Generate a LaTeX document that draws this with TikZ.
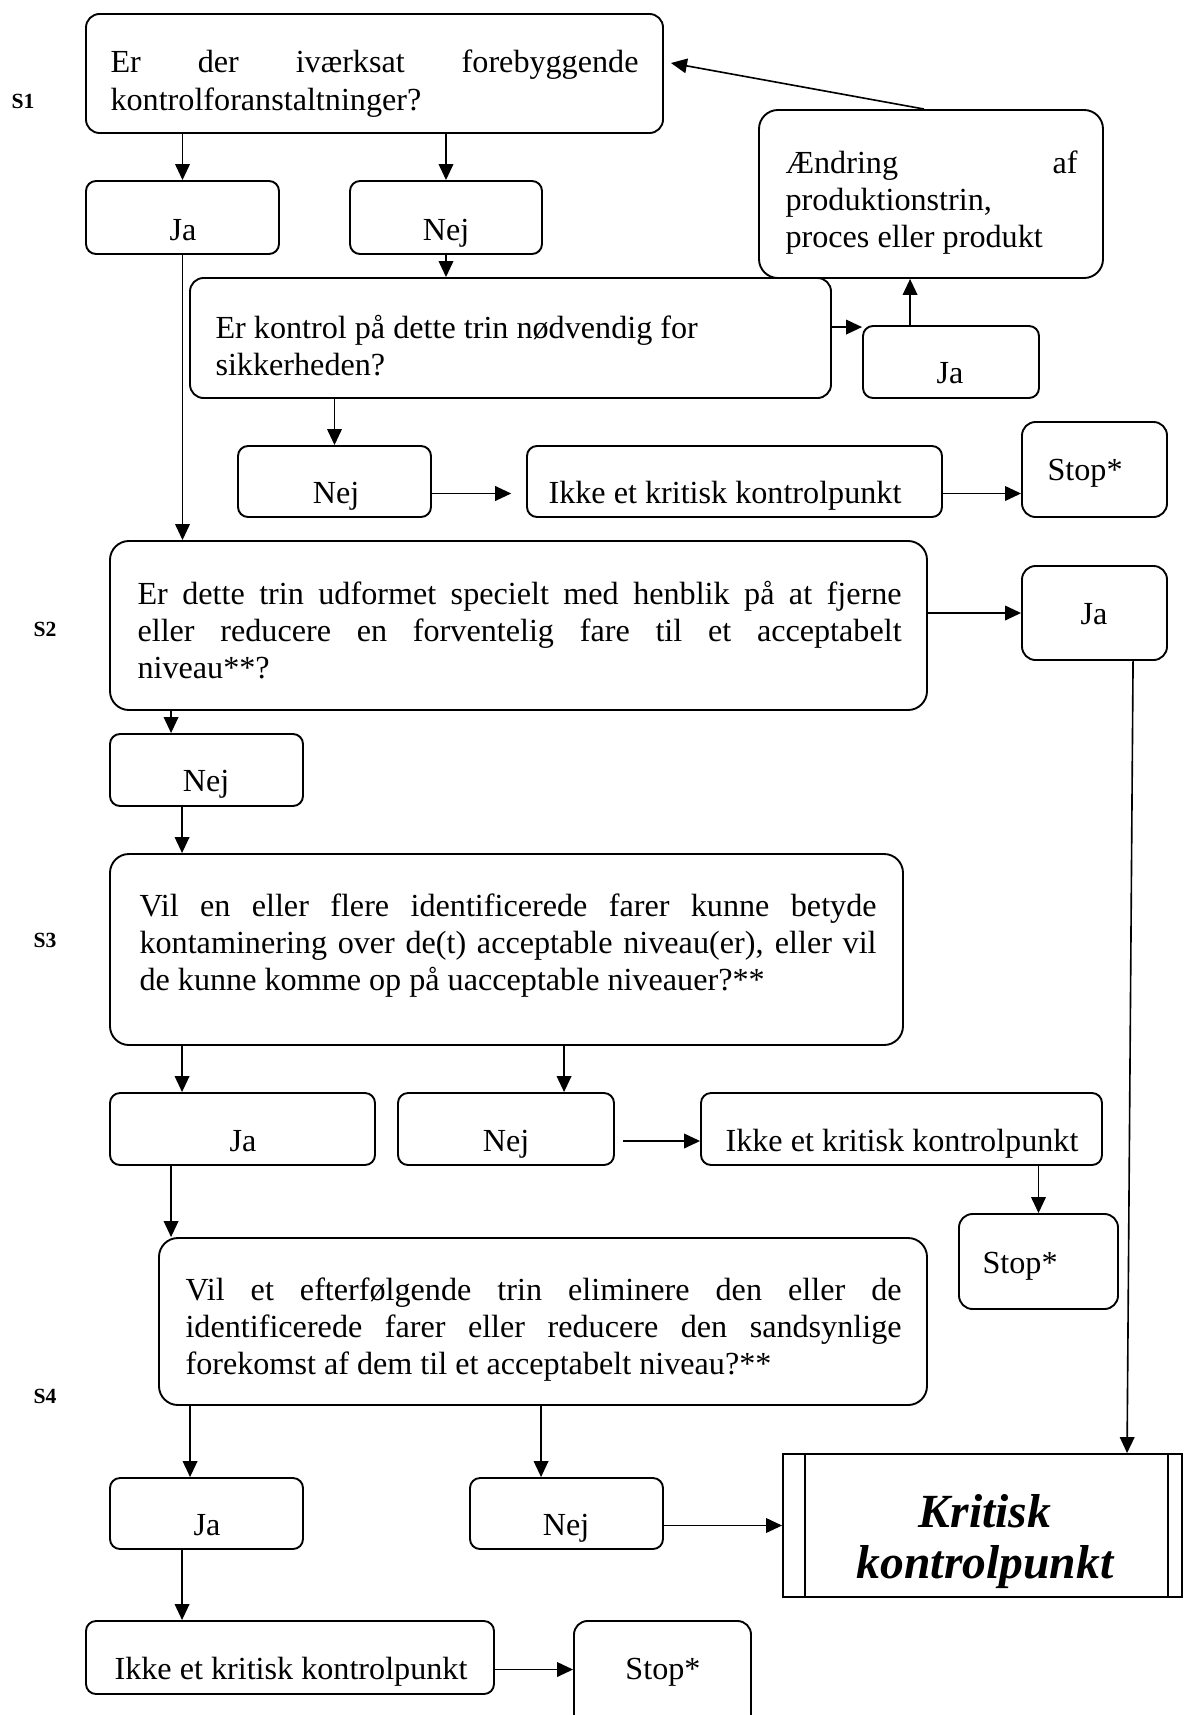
\documentclass[tikz,border=0pt]{standalone}
\usepackage{fontspec}
\setmainfont{Liberation Serif}
\usetikzlibrary{arrows.meta,fit,calc}
\newdimen\pxlen \pxlen=0.37pt
\newcommand\jl[2]{\makebox[#1\pxlen][s]{#2}}
\begin{document}
\begin{tikzpicture}[x=0.37pt,y=-0.37pt,
  font=\fontsize{11.9pt}{13.7pt}\selectfont,
  box/.style={draw, line width=0.7pt, rounded corners=3.7pt, inner sep=0pt},
  bigbox/.style={box, rounded corners=5pt},
  arr/.style={line width=0.6pt, -{Triangle[length=5.9pt,width=5.4pt]}},
  txt/.style={inner sep=0pt, anchor=base west},
  ctxt/.style={inner sep=0pt, anchor=base},
  slabel/.style={inner sep=0pt, anchor=base west, font=\fontsize{8pt}{9pt}\selectfont\bfseries}]
\useasboundingbox (0,0) rectangle (1183,1715);

% step labels
\node[slabel] (s1) at (11,109) {S1};
\node[slabel] (s2) at (33,636) {S2};
\node[slabel] (s3) at (33,947) {S3};
\node[slabel] (s4) at (33,1403) {S4};

% boxes
\node[bigbox, fit={(86,14) (663,133)}] (A) {};
\node[box, fit={(86,181) (279,254)}] (Ja1) {};
\node[box, fit={(350,181) (542,254)}] (Nej1) {};
\node[bigbox, fit={(190,278) (831,398)}] (B) {};
\node[box, fit={(863,326) (1039,398)}] (Ja2) {};
\node[box, rounded corners=7pt, fit={(759,110) (1103,278)}] (C) {};
\node[box, fit={(238,446) (431,517)}] (Nej2) {};
\node[box, fit={(527,446) (942,517)}] (Ikke1) {};
\node[box, rounded corners=5pt, fit={(1022,422) (1167,517)}] (Stop1) {};
\node[bigbox, rounded corners=7pt, fit={(110,541) (927,710)}] (D) {};
\node[box, rounded corners=5pt, fit={(1022,566) (1167,660)}] (Ja3) {};
\node[box, fit={(110,734) (303,806)}] (Nej3) {};
\node[bigbox, rounded corners=7pt, fit={(110,854) (903,1045)}] (E) {};
\node[box, fit={(110,1093) (375,1165)}] (Ja4) {};
\node[box, fit={(398,1093) (614,1165)}] (Nej4) {};
\node[box, fit={(701,1093) (1102,1165)}] (Ikke2) {};
\node[box, rounded corners=5pt, fit={(959,1214) (1118,1309)}] (Stop2) {};
\node[bigbox, rounded corners=7pt, fit={(159,1238) (927,1405)}] (F) {};
\node[box, fit={(110,1478) (303,1549)}] (Ja5) {};
\node[box, fit={(470,1478) (663,1549)}] (Nej5) {};
\node[draw, line width=0.7pt, inner sep=0pt, fit={(783,1454) (1182,1597)}] (K) {};
\draw[line width=0.7pt] ($(K.north west)+(23,0)$) -- ($(K.south west)+(23,0)$);
\draw[line width=0.7pt] ($(K.north east)+(-15,0)$) -- ($(K.south east)+(-15,0)$);
\node[box, fit={(86,1621) (494,1694)}] (Ikke3) {};
\node[box, rounded corners=5pt, fit={(574,1621) (751,1740)}] (Stop3) {};

% texts
\node[txt] (tA) at (110,73) {\parbox[t]{528\pxlen}{\jl{528}{Er der iværksat forebyggende}\\kontrolforanstaltninger?}};
\node[ctxt] (tJa1) at (183,240) {Ja};
\node[ctxt] (tNej1) at (446,240) {Nej};
\node[txt] (tB) at (215,338) {\parbox[t]{580\pxlen}{Er kontrol på dette trin nødvendig for\\sikkerheden?}};
\node[ctxt] (tJa2) at (950,383) {Ja};
\node[txt] (tC) at (785,173) {\parbox[t]{292\pxlen}{\jl{292}{Ændring af}\\produktionstrin,\\proces eller produkt}};
\node[ctxt] (tNej2) at (336,503) {Nej};
\node[ctxt] (tIkke1) at (725,503) {Ikke et kritisk kontrolpunkt};
\node[txt] (tStop1) at (1047,480) {Stop*};
\node[txt] (tD) at (137,604) {\parbox[t]{764\pxlen}{\jl{764}{Er dette trin udformet specielt med henblik på at fjerne}\\\jl{764}{eller reducere en forventelig fare til et acceptabelt}\\niveau**?}};
\node[ctxt] (tJa3) at (1094,624) {Ja};
\node[ctxt] (tNej3) at (206,791) {Nej};
\node[txt] (tE) at (139,916) {\parbox[t]{737\pxlen}{\jl{737}{Vil en eller flere identificerede farer kunne betyde}\\\jl{737}{kontaminering over de(t) acceptable niveau(er), eller vil}\\de kunne komme op på uacceptable niveauer?**}};
\node[ctxt] (tJa4) at (243,1151) {Ja};
\node[ctxt] (tNej4) at (506,1151) {Nej};
\node[ctxt] (tIkke2) at (902,1151) {Ikke et kritisk kontrolpunkt};
\node[txt] (tStop2) at (982,1273) {Stop*};
\node[txt] (tF) at (185,1300) {\parbox[t]{716\pxlen}{\jl{716}{Vil et efterfølgende trin eliminere den eller de}\\\jl{716}{identificerede farer eller reducere den sandsynlige}\\forekomst af dem til et acceptabelt niveau?**}};
\node[ctxt] (tJa5) at (207,1535) {Ja};
\node[ctxt] (tNej5) at (566,1535) {Nej};
\node[ctxt] (tK) at (985,1527) {\parbox[t]{340\pxlen}{\centering\fontsize{17.6pt}{19.2pt}\selectfont\bfseries\itshape Kritisk\\kontrolpunkt}};
\node[ctxt] (tIkke3) at (291,1679) {Ikke et kritisk kontrolpunkt};
\node[ctxt] (tStop3) at (663,1679) {Stop*};

% connectors
\coordinate (pCA) at (671,63);
\draw[arr] (A.south -| Ja1) -- (Ja1.north);
\draw[arr] (A.south -| Nej1) -- (Nej1.north);
\draw[arr] (Nej1.south) -- (Nej1.south |- B.north);
\coordinate (bj) at ($(Ja2.north west)+(0,2)$);
\draw[arr] (B.east |- bj) -- (bj);
\draw[arr] ($(Ja2.north west)+(48,0)$) coordinate (c5) -- (c5 |- C.south);
\draw[arr] ($(C.north west)+(166,0)$) -- (pCA);
\draw[arr] (B.south -| Nej2) -- (Nej2.north);
\draw[arr, shorten >=5.5pt] ($(Nej2.east)+(0,12)$) coordinate (n2) -- (n2 -| Ikke1.west);
\draw[arr] ($(Ikke1.east)+(0,12)$) coordinate (i1) -- (i1 -| Stop1.west);
\draw[arr] (Ja1.south) -- (Ja1.south |- D.north);
\draw[arr] (D.east |- Ja3.west) -- (Ja3.west);
\draw[arr] ($(Ja3.south west)+(112,0)$) -- ($(K.north west)+(345,0)$);
\draw[arr] ($(D.south west)+(62,0)$) coordinate (c13) -- (c13 |- Nej3.north);
\draw[arr] ($(Nej3.south west)+(73,0)$) coordinate (c14) -- (c14 |- E.north);
\draw[arr] ($(E.south west)+(73,0)$) coordinate (c15) -- (c15 |- Ja4.north);
\draw[arr] ($(E.south west)+(455,0)$) coordinate (c16) -- (c16 |- Nej4.north);
\draw[arr, shorten <=3pt] ($(Nej4.east)+(0,12)$) coordinate (n4) -- (n4 -| Ikke2.west);
\draw[arr] (Ikke2.south -| Stop2) -- (Stop2.north);
\draw[arr] ($(Ja4.south west)+(62,0)$) coordinate (c19) -- (c19 |- F.north);
\draw[arr] ($(F.south west)+(32,0)$) coordinate (c20) -- (c20 |- Ja5.north);
\draw[arr] ($(F.south west)+(383,0)$) coordinate (c21) -- (c21 |- Nej5.north);
\draw[arr] ($(Nej5.east)+(0,12)$) coordinate (n5) -- (n5 -| K.west);
\draw[arr] ($(Ja5.south west)+(73,0)$) coordinate (c23) -- (c23 |- Ikke3.north);
\draw[arr] ($(Ikke3.east)+(0,12)$) coordinate (i3) -- (i3 -| Stop3.west);
\end{tikzpicture}
\end{document}
